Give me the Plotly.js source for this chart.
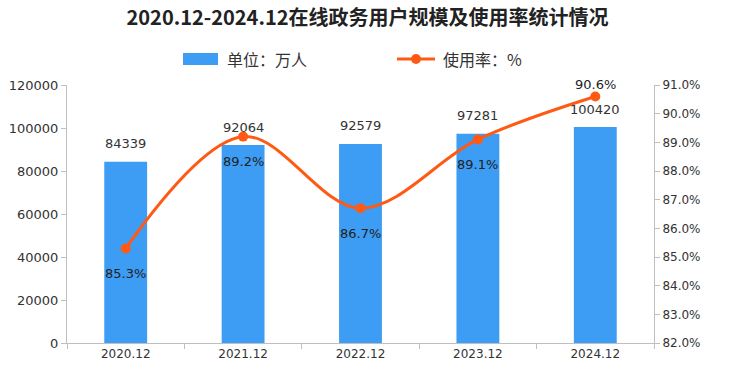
<!DOCTYPE html>
<html><head><meta charset="utf-8">
<script src="https://cdn.plot.ly/plotly-3.0.1.min.js"></script>
<style>html,body{margin:0;padding:0;background:#fff}#chart{width:735px;height:382px}</style>
</head><body><div id="chart"></div>
<script>
const categories = ["2020.12", "2021.12", "2022.12", "2023.12", "2024.12"];
const users = [84339, 92064, 92579, 97281, 100420];
const rates = [85.3, 89.2, 86.7, 89.1, 90.6];
const titleText = "2020.12-2024.12在线政务用户规模及使用率统计情况";
const barName = "单位：万人";
const lineName = "使用率：%";

const W = 735, H = 382, L = 67, R = 81, T = 85, B = 39;
const pw = W - L - R, ph = H - T - B;
const px = x => (x - L) / pw;
const py = y => (H - B - y) / ph;

const FONT = "DejaVu Sans, Noto Sans CJK SC, sans-serif";
const barColor = "#3d9cf3";
const lineColor = "#ff5a14";

const traces = [
  {type: "bar", x: categories, y: users, name: barName, marker: {color: barColor}, width: 0.365, yaxis: "y", hoverinfo: "none"},
  {type: "scatter", mode: "lines+markers", x: categories, y: rates, name: lineName, yaxis: "y2",
   line: {color: lineColor, width: 3, shape: "spline", smoothing: 1}, marker: {color: lineColor, size: 10}, hoverinfo: "none"}
];

const annotations = [];
categories.forEach((c, i) => {
  // category axis: position by category index
  annotations.push({x: i, y: users[i], xref: "x", yref: "y", text: String(users[i]), showarrow: false,
    yanchor: "middle", yshift: 18, font: {family: FONT, size: 13, color: "#333"}});
  const last = i === categories.length - 1;
  annotations.push({x: i, y: rates[i], xref: "x", yref: "y2", text: rates[i].toFixed(1) + "%", showarrow: false,
    yanchor: "middle", yshift: last ? 12 : -25, font: {family: FONT, size: 13, color: "#222"}});
});
// manual legend
annotations.push({x: px(225), y: py(59), xref: "paper", yref: "paper", text: barName, showarrow: false,
  xanchor: "left", yanchor: "middle", font: {family: "Noto Sans CJK SC", size: 16, color: "#333"}});
annotations.push({x: px(441), y: py(59), xref: "paper", yref: "paper", text: lineName, showarrow: false,
  xanchor: "left", yanchor: "middle", font: {family: "Noto Sans CJK SC", size: 16, color: "#333"}});

const shapes = [
  {type: "rect", xref: "paper", yref: "paper", x0: px(183), x1: px(218), y0: py(65), y1: py(53),
   fillcolor: barColor, line: {width: 0}},
  {type: "line", xref: "paper", yref: "paper", x0: px(397), x1: px(435), y0: py(59), y1: py(59),
   line: {color: lineColor, width: 3}},
  {type: "circle", xref: "paper", yref: "paper", x0: px(411), x1: px(421), y0: py(64), y1: py(54),
   fillcolor: lineColor, line: {width: 0}}
];

const axisCommon = {showline: true, linecolor: "#bfbfbf", linewidth: 1, ticks: "outside", ticklen: 5,
  tickcolor: "#bfbfbf", showgrid: false, zeroline: false, tickfont: {family: FONT, size: 12, color: "#333"}};

const layout = {
  width: W, height: H, margin: {l: L, r: R, t: T, b: B},
  paper_bgcolor: "#fff", plot_bgcolor: "#fff", showlegend: false,
  title: {text: "<b>" + titleText + "</b>", xref: "container", x: 0.5, xanchor: "center",
    yref: "container", y: 1 - 18 / H, yanchor: "middle", font: {family: "Noto Sans CJK SC", size: 20, color: "#222"}},
  xaxis: Object.assign({}, axisCommon, {type: "category", range: [-0.5, 4.5], tickson: "boundaries"}),
  yaxis: Object.assign({}, axisCommon, {range: [0, 120000], dtick: 20000, tickformat: "d",
    tickfont: {family: FONT, size: 13, color: "#333"}}),
  yaxis2: Object.assign({}, axisCommon, {overlaying: "y", side: "right", range: [82, 91], dtick: 1,
    tickformat: ".1f", ticksuffix: "%"}),
  annotations: annotations, shapes: shapes
};

Plotly.newPlot("chart", traces, layout, {staticPlot: true});
</script>
</body></html>
